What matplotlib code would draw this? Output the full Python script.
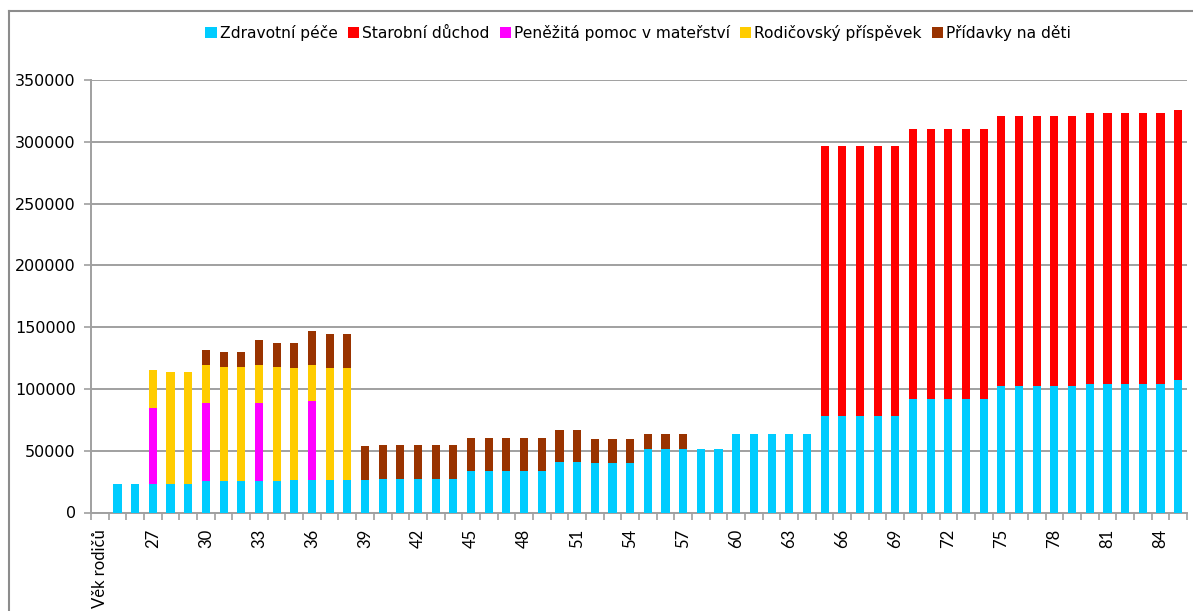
import matplotlib
matplotlib.use("Agg")
import matplotlib.pyplot as plt
from matplotlib.lines import Line2D
import numpy as np

# ---- data ----
categories = ["Věk rodičů"] + [str(a) for a in range(25, 86)]

# values per age 25..85 (61 values); first category "Věk rodičů" is empty
zdravotni = ([22900]*5 + [25400]*5 + [26200]*5 + [27000]*5 + [33400]*5 +
             [40700]*2 + [40000]*3 + [51500]*5 + [63300]*5 + [78000]*5 +
             [91600]*5 + [102000]*5 + [104200]*5 + [107000])
starobni = [0]*40 + [218500]*5 + [218600]*5 + [219000]*5 + [219200]*5 + [218600]
materstvi = [0, 0, 62000, 0, 0, 63500, 0, 0, 63500, 0, 0, 64000] + [0]*49
rodicovsky = [0, 0, 30800, 90700, 90700, 30800, 92000, 92000, 30800, 92000,
              90800, 29200, 90800, 90800] + [0]*47
pridavky = ([0]*5 + [12200, 12100, 12100, 19500, 19500, 20300, 27600, 27600, 27600,
             27800] + [27800]*5 + [27100]*5 + [26300]*2 + [19700]*3 + [12200]*3 +
            [0]*28)

series_names = ["Zdravotní péče", "Starobní důchod", "Peněžitá pomoc v mateřství",
                "Rodičovský příspěvek", "Přídavky na děti"]
series_vals = [zdravotni, starobni, materstvi, rodicovsky, pridavky]
colors = ["#00CCFF", "#FF0000", "#FF00FF", "#FFCC00", "#993300"]

W, H = 1193, 611
fig = plt.figure(figsize=(W/100, H/100), dpi=100)
ax = fig.add_axes([91/W, 1-512.5/H, (1187-91)/W, (512.5-80)/H])

x = np.arange(len(categories))
bottom = np.zeros(len(categories))
for name, vals, c in zip(series_names, series_vals, colors):
    v = np.array([0] + list(vals), dtype=float)
    ax.bar(x, v, width=0.46, bottom=bottom, color=c, label=name, zorder=3)
    bottom += v

gridc = "#A0A0A0"
ax.set_xlim(-0.5, len(categories)-0.5)
ax.set_ylim(0, 350000)
ax.set_yticks(np.arange(0, 350001, 50000))
ax.yaxis.grid(True, color=gridc, lw=1.4, zorder=0)
ax.set_axisbelow(True)
for s in ["top", "right"]:
    ax.spines[s].set_visible(False)
for s in ["left", "bottom"]:
    ax.spines[s].set_color(gridc)
    ax.spines[s].set_linewidth(1.4)

ax.tick_params(axis="y", length=5, width=1.2, color=gridc, pad=6,
               labelsize=11.5, labelcolor="#000000")
ax.set_xticks(x[::3])
ax.set_xticklabels(categories[::3], rotation=90, va="top", ha="center",
                   family=["Lato", "DejaVu Sans"], fontsize=12)
ax.set_xticks(np.arange(-0.5, len(categories), 1), minor=True)
ax.tick_params(axis="x", which="major", length=0, pad=12)
ax.tick_params(axis="x", which="minor", length=5, width=1.2, color=gridc)

leg = fig.legend(loc="center", bbox_to_anchor=(0.535, 1-33/H), ncol=5,
                 frameon=False, fontsize=11.2, handlelength=0.72, handleheight=0.72,
                 handletextpad=0.2, columnspacing=0.65, borderpad=0)

# outer chart frame (partially cropped)
fig.add_artist(Line2D([9/W, 1.0], [1-11/H, 1-11/H], color="#8C8C8C", lw=1.5,
                      transform=fig.transFigure))
fig.add_artist(Line2D([9/W, 9/W], [1-11/H, 0], color="#8C8C8C", lw=1.5,
                      transform=fig.transFigure))

fig.savefig("out.png", dpi=100)
